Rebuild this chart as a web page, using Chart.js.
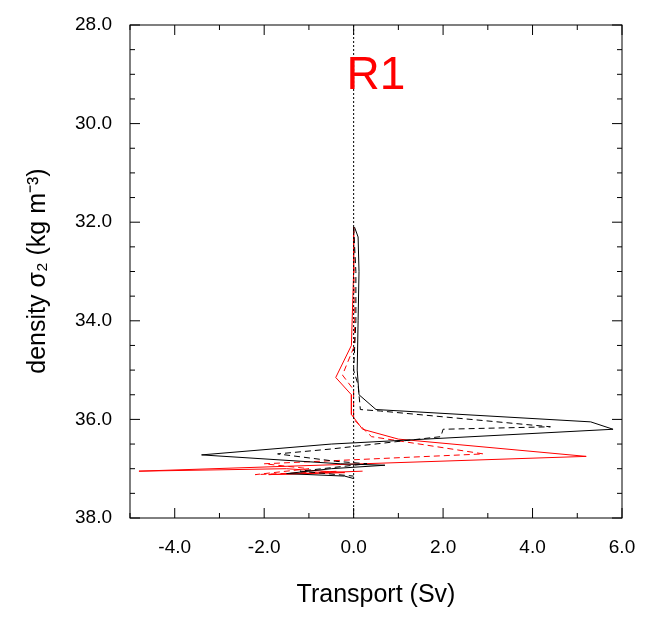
<!DOCTYPE html><html><head><script src="https://cdn.jsdelivr.net/npm/chart.js"></script>
<style>body{margin:0;background:#fff}</style></head><body><canvas id="c" width="649" height="620"></canvas>
<script>
const blackSolid=[[0.02,32.1],[0.1,32.3],[0.12,33.0],[0.1,34.0],[0.08,35.0],[0.12,35.5],[0.5,35.8],[5.3,36.05],[5.8,36.2],[-0.5,36.5],[-3.4,36.72],[-0.3,36.9],[0.7,36.93],[-0.5,37.0],[-1.5,37.1],[-0.2,37.15],[0,37.2]];
const blackDashed=[[0,32.1],[0.05,33],[0.05,34],[0.0,35.0],[0.1,35.3],[0.15,35.8],[0.6,35.83],[4.4,36.15],[2.0,36.2],[1.95,36.35],[-0.5,36.6],[-1.7,36.7],[-0.4,36.85],[0.3,36.9],[-1.2,37.05],[0,37.15]];
const redSolid=[[0,32.1],[0.0,33],[-0.05,34.5],[-0.4,35.15],[-0.05,35.5],[-0.05,35.9],[0.2,36.2],[1.0,36.4],[5.2,36.75],[-4.8,37.05],[-1.5,37.0],[-0.2,37.08],[-1.9,37.12],[0.2,37.05]];
const redDashed=[[0,32.1],[0.02,34.5],[-0.25,35.1],[0,35.4],[0.0,36.0],[0.4,36.35],[2.9,36.7],[-2.0,36.9],[-1.0,37.0],[-2.2,37.12],[-0.3,37.05]];
const xMajor=[-4,-2,0,2,4,6], yMajor=[28,30,32,34,36,38];
const toXY=a=>a.map(p=>({x:p[0],y:p[1]}));
const ds=(d,c,dash)=>({data:toXY(d),borderColor:c,borderWidth:1,borderDash:dash,showLine:true,pointRadius:0,fill:false,tension:0});
const F='"Liberation Sans",Arial';
const ticksPlugin={id:'tk',afterDraw(ch){const c=ch.ctx,a=ch.chartArea,xs=ch.scales.x,ys=ch.scales.y;c.save();c.strokeStyle='#000';c.lineWidth=1;
c.setLineDash([2,2]);c.beginPath();c.moveTo(xs.getPixelForValue(0),a.top);c.lineTo(xs.getPixelForValue(0),a.bottom);c.stroke();c.setLineDash([]);
c.beginPath();
for(let v=-5;v<=6;v++){const x=xs.getPixelForValue(v),L=(v%2===0)?10:5;c.moveTo(x,a.bottom);c.lineTo(x,a.bottom-L);c.moveTo(x,a.top);c.lineTo(x,a.top+L);}
for(let v=28;v<=38;v+=0.5){const y=ys.getPixelForValue(v),L=(v%2===0)?10:5;c.moveTo(a.left,y);c.lineTo(a.left+L,y);c.moveTo(a.right,y);c.lineTo(a.right-L,y);}
c.stroke();c.strokeRect(a.left,a.top,a.right-a.left,a.bottom-a.top);
c.fillStyle='#ff0000';c.font='46px '+F;c.textAlign='center';c.textBaseline='middle';c.fillText('R1',xs.getPixelForValue(0.5),ys.getPixelForValue(29.05));
c.fillStyle='#000';c.font='25px '+F;c.translate(38,271);c.rotate(-Math.PI/2);c.fillText('density σ₂ (kg m⁻³)',0,0);c.restore();}};
new Chart(document.getElementById('c'),{type:'scatter',data:{datasets:[ds(blackSolid,'#000',[]),ds(blackDashed,'#000',[6,4]),ds(redSolid,'#ff0000',[]),ds(redDashed,'#ff0000',[6,4])]},
options:{responsive:false,animation:false,plugins:{legend:{display:false},tooltip:{enabled:false}},layout:{padding:{top:25,right:27,left:0,bottom:0}},
scales:{x:{type:'linear',min:-5,max:6,afterBuildTicks:s=>{s.ticks=xMajor.map(v=>({value:v}))},afterFit:s=>{s.height=102},grid:{display:false},border:{display:false},
ticks:{color:'#000',font:{size:19,family:F},callback:v=>v.toFixed(1),maxRotation:0,padding:10},
title:{display:true,text:'Transport (Sv)',color:'#000',font:{size:25,family:F},padding:{top:0,bottom:10}}},
y:{type:'linear',min:28,max:38,reverse:true,afterBuildTicks:s=>{s.ticks=yMajor.map(v=>({value:v}))},afterFit:s=>{s.width=130},grid:{display:false},border:{display:false},
ticks:{color:'#000',font:{size:19,family:F},callback:v=>v.toFixed(1),padding:10},
title:{display:false}}}},plugins:[ticksPlugin]});
</script></body></html>
